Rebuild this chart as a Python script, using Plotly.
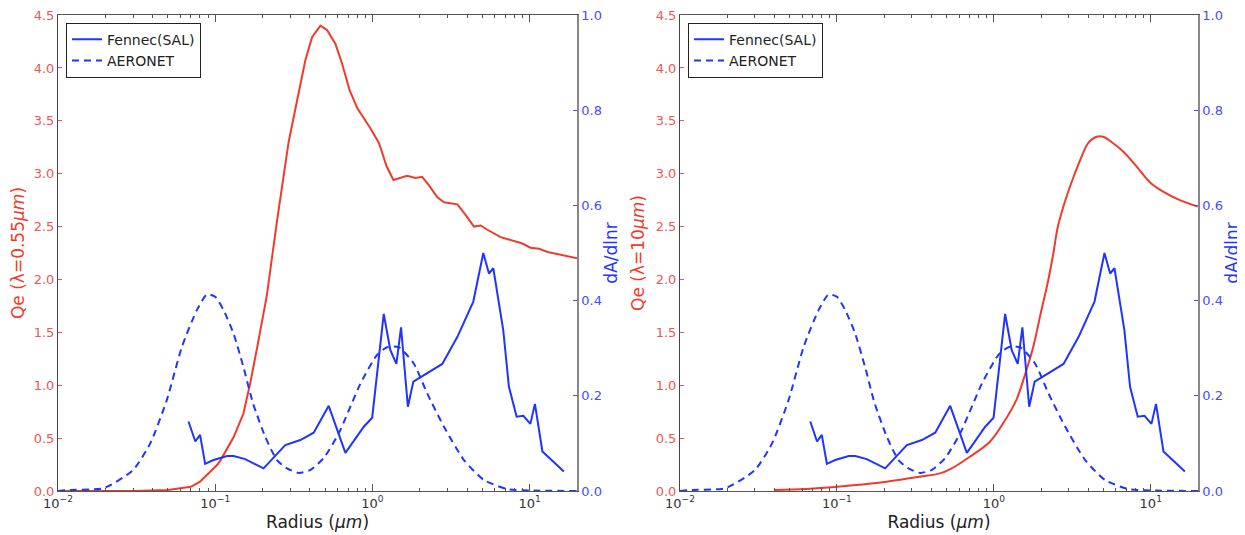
import numpy as np
import plotly.graph_objects as go

# ---------------- data ----------------
r_fennec = [0.0676, 0.0747, 0.0801, 0.0863, 0.0975, 0.119, 0.131, 0.155, 0.203, 0.279,
            0.348, 0.423, 0.527, 0.673, 0.881, 0.996, 1.18, 1.30, 1.42, 1.52, 1.68, 1.82,
            2.78, 3.47, 4.38, 5.07, 5.51, 5.87, 6.79, 7.38, 8.26, 9.12, 10.1, 10.8, 12.05, 16.5]
dA_fennec = [0.146, 0.104, 0.118, 0.057, 0.065, 0.0735, 0.0735, 0.067, 0.0476, 0.0966,
             0.107, 0.1225, 0.179, 0.080, 0.135, 0.154, 0.372, 0.296, 0.267, 0.344, 0.177, 0.230,
             0.267, 0.324, 0.398, 0.500, 0.457, 0.468, 0.338, 0.219, 0.156, 0.158, 0.141, 0.183, 0.083, 0.041]

r_aeronet = [0.01, 0.0113, 0.0195, 0.030, 0.0386, 0.0492, 0.0614, 0.0764, 0.0886, 0.100, 0.113,
             0.131, 0.151, 0.174, 0.208, 0.247, 0.284, 0.339, 0.401, 0.489, 0.610, 0.84, 1.07,
             1.24, 1.47, 1.83, 2.23, 2.85, 3.82, 5.12, 7.21, 10.6, 20.0]
dA_aeronet = [0.0, 0.002, 0.006, 0.044, 0.100, 0.191, 0.303, 0.380, 0.413, 0.408, 0.380,
              0.330, 0.261, 0.184, 0.114, 0.065, 0.048, 0.038, 0.044, 0.069, 0.121, 0.226, 0.286,
              0.302, 0.302, 0.268, 0.205, 0.135, 0.065, 0.023, 0.004, 0.001, 0.0]

r_qe055 = [0.01, 0.03, 0.05, 0.07, 0.080, 0.1026, 0.108, 0.131, 0.151, 0.167, 0.185, 0.203,
           0.213, 0.247, 0.293, 0.340, 0.374, 0.413, 0.467, 0.514, 0.581, 0.641, 0.716, 0.80,
           0.97, 1.10, 1.23, 1.36, 1.66, 1.88, 2.07, 2.29, 2.58, 2.85, 3.47, 3.91, 4.42, 4.88,
           5.38, 6.54, 7.94, 8.99, 10.1, 11.5, 13.0, 16.5, 20.1]
qe055 = [0.0, 0.0, 0.01, 0.04, 0.088, 0.246, 0.29, 0.51, 0.73, 1.02, 1.36, 1.71,
         1.85, 2.55, 3.30, 3.77, 4.07, 4.29, 4.40, 4.36, 4.23, 4.04, 3.79, 3.62,
         3.43, 3.29, 3.07, 2.94, 2.98, 2.96, 2.97, 2.89, 2.78, 2.73, 2.71, 2.61, 2.50, 2.51,
         2.47, 2.40, 2.36, 2.34, 2.30, 2.29, 2.26, 2.23, 2.20]

r_qe10 = [0.0397, 0.064, 0.127, 0.207, 0.338, 0.453, 0.525, 0.703, 0.944, 1.146, 1.39, 1.61,
          1.78, 2.01, 2.22, 2.39, 2.56, 2.90, 3.28, 3.62, 3.99, 4.51, 4.97, 5.62, 6.67, 8.11,
          9.86, 12.0, 15.3, 19.9]
qe10 = [0.01, 0.02, 0.054, 0.088, 0.135, 0.167, 0.205, 0.324, 0.466, 0.64, 0.86, 1.14,
        1.36, 1.71, 1.99, 2.24, 2.50, 2.78, 3.00, 3.16, 3.29, 3.35, 3.35, 3.30, 3.21, 3.07,
        2.92, 2.83, 2.75, 2.69]

major_ticks = [0.01, 0.1, 1, 10]
major_text = ["10<sup>−2</sup>", "10<sup>−1</sup>", "10<sup>0</sup>", "10<sup>1</sup>"]
qe_ticks = [0.0, 0.5, 1.0, 1.5, 2.0, 2.5, 3.0, 3.5, 4.0, 4.5]
da_ticks = [0.0, 0.2, 0.4, 0.6, 0.8, 1.0]
left_titles = ["Qe (λ=0.55<i>μm</i>)", "Qe (λ=10<i>μm</i>)"]

# ---------------- style ----------------
RED = "#ef3b2c"
BLUE = "#1f35ff"
RED_TXT = "#f25555"
BLUE_TXT = "#4a4aff"
FONT = "DejaVu Sans"
minor_vals = [m * 10.0 ** e for e in range(-2, 2) for m in range(2, 10)]

W, H = 1237, 527  # page body has an 8px margin

fig = go.Figure()

panels = [
    dict(x="x", y="y", y2="y2", legend="legend", r_qe=r_qe055, qe=qe055),
    dict(x="x2", y="y3", y2="y4", legend="legend2", r_qe=r_qe10, qe=qe10),
]

for i, p in enumerate(panels):
    fig.add_trace(go.Scatter(x=p["r_qe"], y=p["qe"], mode="lines", xaxis=p["x"], yaxis=p["y"],
                             line=dict(color=RED, width=2,
                                       shape="linear" if i == 0 else "spline"),
                             showlegend=False))
    fig.add_trace(go.Scatter(x=r_fennec, y=dA_fennec, mode="lines", xaxis=p["x"], yaxis=p["y2"],
                             name="Fennec(SAL)", legend=p["legend"],
                             line=dict(color=BLUE, width=2)))
    fig.add_trace(go.Scatter(x=r_aeronet, y=dA_aeronet, mode="lines", xaxis=p["x"], yaxis=p["y2"],
                             name="AERONET", legend=p["legend"],
                             line=dict(color=BLUE, width=2, dash="7px,5px", shape="spline",
                                       smoothing=0.6)))

xdomains = [[50 / W, 569 / W], [672 / W, 1190 / W]]
ydomain = [1 - 483 / H, 1 - 7 / H]

lay = dict(
    width=W, height=H,
    margin=dict(l=0, r=0, t=0, b=0, autoexpand=False),
    paper_bgcolor="white", plot_bgcolor="white",
    font=dict(family=FONT, size=12, color="#333"),
)

for i in range(2):
    xa = "xaxis" if i == 0 else "xaxis2"
    ya = "yaxis" if i == 0 else "yaxis3"
    yb = "yaxis2" if i == 0 else "yaxis4"
    xref = "x" if i == 0 else "x2"
    yref = "y" if i == 0 else "y3"
    lay[xa] = dict(
        type="log", range=[-2, np.log10(20)], domain=xdomains[i], anchor=yref,
        automargin=False, ticklabeloverflow="allow",
        showline=True, linecolor="#555", linewidth=1, mirror="ticks",
        ticks="inside", ticklen=7, tickcolor="#555", tickwidth=1,
        tickvals=major_ticks, ticktext=major_text, showgrid=False, zeroline=False,
        tickfont=dict(size=13, color="#333"),
        minor=dict(ticks="inside", ticklen=3, tickcolor="#555", tickvals=minor_vals,
                   showgrid=False),
        title=dict(text="Radius (<i>μm</i>)", font=dict(size=17, color="#222"), standoff=6),
    )
    lay[ya] = dict(
        range=[0, 4.5005], domain=ydomain, anchor=xref, tickmode="array", tickvals=qe_ticks,
        tickformat=".1f", automargin=False, ticklabeloverflow="allow",
        showline=True, linecolor="#444", linewidth=1, ticks="inside", ticklen=4,
        tickcolor=RED_TXT, tickfont=dict(size=13, color=RED_TXT),
        showgrid=False, zeroline=False,
        title=dict(text=left_titles[i], font=dict(size=17, color=RED), standoff=6),
    )
    lay[yb] = dict(
        range=[0, 1.0001], overlaying=yref, side="right", anchor=xref, tickmode="array",
        tickvals=da_ticks, automargin=False, ticklabeloverflow="allow",
        tickformat=".1f", showline=True, linecolor="#888", linewidth=1.5, ticks="inside",
        ticklen=4, tickcolor=BLUE_TXT, tickfont=dict(size=13, color=BLUE_TXT),
        showgrid=False, zeroline=False,
        title=dict(text="dA/dlnr", font=dict(size=17, color=BLUE), standoff=4),
    )

lay["legend"] = dict(x=58 / W, y=1 - 14.7 / H, xanchor="left", yanchor="top",
                     bgcolor="white", bordercolor="#222", borderwidth=1,
                     font=dict(size=14, color="#222"), tracegroupgap=0, itemwidth=30)
lay["legend2"] = dict(x=680 / W, y=1 - 14.7 / H, xanchor="left", yanchor="top",
                      bgcolor="white", bordercolor="#222", borderwidth=1,
                      font=dict(size=14, color="#222"), tracegroupgap=0, itemwidth=30)

fig.update_layout(**lay)
fig.write_html("out.html")
